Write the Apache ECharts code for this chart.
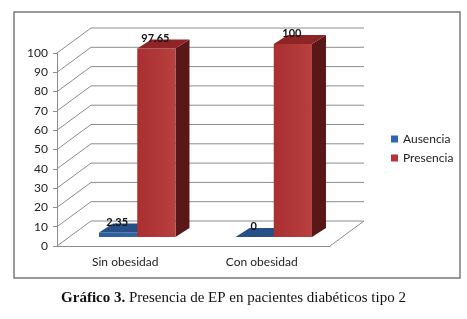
<!DOCTYPE html>
<html>
<head>
<meta charset="utf-8">
<script src="https://cdn.jsdelivr.net/npm/echarts@6/dist/echarts.min.js"></script>
<style>
  html, body { margin: 0; padding: 0; background: #fff; }
  #chart { width: 467px; height: 319px; }
</style>
</head>
<body>
<div id="chart"></div>
<script>
// datos
const categories = ["Sin obesidad", "Con obesidad"];
const ausencia = [2.35, 0];
const presencia = [97.65, 100];
const yTicks = [0, 10, 20, 30, 40, 50, 60, 70, 80, 90, 100];

// efecto 3D (pixeles)
const WALL_DX = 34, WALL_DY = -25; // profundidad de pared/suelo
const BAR_DX = 12, BAR_DY = -9;    // cara frontal de las barras
const DEPTH_DX = 14, DEPTH_DY = -9; // grosor de la barra
const FONT = "Lato, 'Open Sans', sans-serif";

// pared del fondo + suelo
function renderWall(params, api) {
  const cs = params.coordSys;
  const v = api.value(1);
  const y = api.coord([0, v])[1];
  const x0 = cs.x, x1 = cs.x + cs.width;
  const lines = [
    [x0, y, x0 + WALL_DX, y + WALL_DY],
    [x0 + WALL_DX, y + WALL_DY, x1 + WALL_DX, y + WALL_DY],
  ];
  if (v === 0) {
    lines.push([x1, y, x1 + WALL_DX, y + WALL_DY]);
  }
  return {
    type: "group",
    children: lines.map((l) => ({
      type: "line",
      shape: { x1: l[0], y1: l[1], x2: l[2], y2: l[3] },
      style: { stroke: "#8c8c8c", lineWidth: 1 },
    })),
  };
}

function barRenderer(side, colors) {
  return function (params, api) {
    const i = api.value(0);
    const v = api.value(1);
    const top = api.coord([i, v]);
    const base = api.coord([i, 0]);
    const w = api.size([1, 0])[0] * 0.28;
    const xl = top[0] + (side < 0 ? -w : 0) + BAR_DX;
    const xr = xl + w;
    const yt = top[1] + BAR_DY;
    const yb = base[1] + BAR_DY;
    return {
      type: "group",
      children: [
        {
          type: "polygon",
          shape: { points: [[xr, yt], [xr + DEPTH_DX, yt + DEPTH_DY], [xr + DEPTH_DX, yb + DEPTH_DY], [xr, yb]] },
          style: { fill: colors.side },
        },
        {
          type: "rect",
          shape: { x: xl, y: yt, width: w, height: yb - yt },
          style: {
            fill: new echarts.graphic.LinearGradient(0, 0, 1, 0, [
              { offset: 0, color: colors.front[0] },
              { offset: 1, color: colors.front[1] },
            ]),
          },
        },
        {
          type: "polygon",
          shape: { points: [[xl, yt], [xr, yt], [xr + DEPTH_DX, yt + DEPTH_DY], [xl + DEPTH_DX, yt + DEPTH_DY]] },
          style: { fill: colors.top },
        },
        {
          type: "text",
          style: {
            x: xl + w / 2 - 1,
            y: yt - 5,
            text: String(v),
            align: "center",
            verticalAlign: "bottom",
            fill: "#111",
            font: "bold 11px " + FONT,
          },
        },
      ],
    };
  };
}

const chart = echarts.init(document.getElementById("chart"), null, { renderer: "canvas" });

chart.setOption({
  animation: false,
  title: {
    text: "{b|Gráfico 3.} Presencia de EP en pacientes diabéticos tipo 2",
    left: "center",
    top: 286,
    textStyle: {
      fontFamily: "'Liberation Serif', serif",
      fontSize: 15,
      fontWeight: "normal",
      color: "#111",
      rich: {
        b: { fontFamily: "'Liberation Serif', serif", fontSize: 15, fontWeight: "bold", color: "#111" },
      },
    },
  },
  graphic: [
    {
      type: "rect",
      shape: { x: 14, y: 12, width: 446, height: 266 },
      style: { fill: "none", stroke: "#7a7a7a", lineWidth: 1.5 },
      silent: true,
    },
  ],
  legend: {
    data: ["Ausencia", "Presencia"],
    orient: "vertical",
    left: 386,
    top: 128,
    itemWidth: 7,
    itemHeight: 7,
    itemGap: 7,
    icon: "rect",
    textStyle: { fontFamily: FONT, fontSize: 12, color: "#222" },
  },
  grid: { left: 57, right: 137, top: 53, bottom: 73 },
  xAxis: {
    type: "category",
    data: categories,
    axisLine: { lineStyle: { color: "#8c8c8c" } },
    axisTick: { length: 4, lineStyle: { color: "#8c8c8c" } },
    axisLabel: { fontFamily: FONT, fontSize: 12, color: "#222", margin: 10 },
  },
  yAxis: {
    type: "value",
    min: 0,
    max: 100,
    interval: 10,
    axisLine: { show: true, lineStyle: { color: "#8c8c8c" } },
    axisTick: { show: true, length: 4, lineStyle: { color: "#8c8c8c" } },
    splitLine: { show: false },
    axisLabel: { fontFamily: FONT, fontSize: 12, color: "#222", margin: 9 },
  },
  series: [
    {
      name: "pared",
      type: "custom",
      silent: true,
      renderItem: renderWall,
      data: yTicks.map((t) => [0, t]),
      z: 1,
    },
    {
      name: "Ausencia",
      type: "custom",
      itemStyle: { color: "#2f66ad" },
      renderItem: barRenderer(-1, { front: ["#2b5c9b", "#3165a8"], top: "#264f88", side: "#1a3a66" }),
      data: ausencia.map((v, i) => [i, v]),
      z: 2,
    },
    {
      name: "Presencia",
      type: "custom",
      itemStyle: { color: "#b5343a" },
      renderItem: barRenderer(1, { front: ["#a92f31", "#b8403e"], top: "#8e2426", side: "#5a1718" }),
      data: presencia.map((v, i) => [i, v]),
      z: 3,
    },
  ],
});
</script>
</body>
</html>
